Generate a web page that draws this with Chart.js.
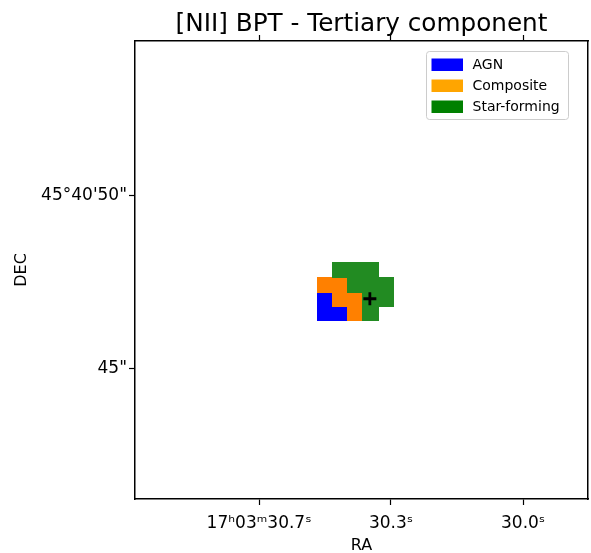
<!DOCTYPE html>
<html><head><meta charset="utf-8">
<script src="https://cdn.jsdelivr.net/npm/chart.js@4.4.1/dist/chart.umd.min.js"></script>
<style>html,body{margin:0;padding:0;background:#fff;overflow:hidden;}</style>
</head><body>
<canvas id="c" width="591" height="553"></canvas>
<script>
// ---------- data ----------
const titleText = '[NII] BPT - Tertiary component';
const categories = ['AGN', 'Composite', 'Star-forming'];
const legendColors = ['#0000ff', '#ffa500', '#008000'];
const cellColors = ['#0000ff', '#ff8000', '#228b22'];
// cell centres, in image-pixel units
const agnX = [12.5, 12.5, 13.5];
const agnY = [13.5, 12.5, 12.5];
const compX = [12.5, 13.5, 13.5, 14.5, 14.5];
const compY = [14.5, 14.5, 13.5, 13.5, 12.5];
const sfX = [13.5, 14.5, 15.5, 14.5, 15.5, 16.5, 15.5, 16.5, 15.5];
const sfY = [15.5, 15.5, 15.5, 14.5, 14.5, 14.5, 13.5, 13.5, 12.5];
const centreX = [15.45];
const centreY = [13.5];
const raTickValues = [8.16, 16.84, 25.53];
const raTickLabels = ['17ʰ03ᵐ30.7ˢ', '30.3ˢ', '30.0ˢ'];
const decTickValues = [20.76, 8.58];
const decTickLabels = ['45°40\'50"', '45"'];
const xRange = [0, 29.8];
const yRange = [-0.6, 31.65];

const FONT = '"DejaVu Sans", "Liberation Sans", sans-serif';
const pts = (xs, ys) => xs.map((x, i) => ({x: x, y: ys[i]}));

// pixel cell drawn as an image point style sized from the scales
const cellCache = {};
function cellStyle(color) {
  return function (ctx) {
    const ch = ctx.chart;
    const sx = ch.scales.x, sy = ch.scales.y;
    if (!sx || !sy) return 'rect';
    const w = Math.ceil(Math.abs(sx.getPixelForValue(1) - sx.getPixelForValue(0))) + 1;
    const h = Math.ceil(Math.abs(sy.getPixelForValue(1) - sy.getPixelForValue(0))) + 1;
    const key = color + w + 'x' + h;
    if (!cellCache[key]) {
      const cv = document.createElement('canvas');
      cv.width = w; cv.height = h;
      const c2 = cv.getContext('2d');
      c2.fillStyle = color; c2.fillRect(0, 0, w, h);
      cellCache[key] = cv;
    }
    return cellCache[key];
  };
}

const decor = {
  id: 'decor',
  afterDraw(chart) {
    const ctx = chart.ctx, ca = chart.chartArea;
    ctx.save();
    ctx.fillStyle = '#000';
    ctx.font = '24.7px ' + FONT;
    ctx.textAlign = 'center';
    ctx.textBaseline = 'alphabetic';
    ctx.fillText(titleText, (ca.left + ca.right) / 2, ca.top - 10);
    // legend
    const bx = ca.right - 161.5, by = ca.top + 10.5, bw = 142, bh = 68;
    ctx.beginPath();
    ctx.roundRect(bx, by, bw, bh, 3);
    ctx.fillStyle = 'rgba(255,255,255,0.8)';
    ctx.fill();
    ctx.strokeStyle = '#cccccc';
    ctx.lineWidth = 1;
    ctx.stroke();
    ctx.font = '14px ' + FONT;
    ctx.textAlign = 'left';
    ctx.textBaseline = 'middle';
    categories.forEach((lab, i) => {
      const cy = by + 13 + i * 21;
      ctx.fillStyle = legendColors[i];
      ctx.fillRect(bx + 5, cy - 6, 31.5, 12.5);
      ctx.fillStyle = '#000';
      ctx.fillText(lab, bx + 46, cy + 0.5);
    });
    ctx.restore();
  }
};

const tickGrid = {display: true, drawOnChartArea: false, drawTicks: true, tickLength: 6, tickWidth: 1.2, tickColor: '#000'};
const axisBorder = {display: true, color: '#000', width: 1.5};
const fixH = h => s => { s.height = h; s.paddingLeft = 0; s.paddingRight = 0; s.paddingTop = 0; s.paddingBottom = 0; };
const fixW = w => s => { s.width = w; s.paddingLeft = 0; s.paddingRight = 0; s.paddingTop = 0; s.paddingBottom = 0; };

new Chart(document.getElementById('c'), {
  type: 'scatter',
  data: {
    datasets: [
      {label: 'centre', data: pts(centreX, centreY), pointStyle: 'cross', pointRadius: 6.5, borderWidth: 2.8, borderColor: '#000', backgroundColor: '#000', order: 0},
      {label: categories[0], data: pts(agnX, agnY), pointStyle: cellStyle(cellColors[0]), pointRadius: 8, borderWidth: 0, backgroundColor: cellColors[0], order: 3},
      {label: categories[1], data: pts(compX, compY), pointStyle: cellStyle(cellColors[1]), pointRadius: 8, borderWidth: 0, backgroundColor: cellColors[1], order: 2},
      {label: categories[2], data: pts(sfX, sfY), pointStyle: cellStyle(cellColors[2]), pointRadius: 8, borderWidth: 0, backgroundColor: cellColors[2], order: 1}
    ]
  },
  options: {
    responsive: false,
    animation: false,
    devicePixelRatio: 1,
    events: [],
    layout: {padding: 0, autoPadding: false},
    plugins: {legend: {display: false}, tooltip: {enabled: false}, title: {display: false}},
    scales: {
      x: {
        type: 'linear', position: 'bottom', min: xRange[0], max: xRange[1],
        afterBuildTicks: s => { s.ticks = raTickValues.map(v => ({value: v})); },
        afterFit: fixH(54),
        ticks: {autoSkip: false, maxRotation: 0, padding: 8.5, color: '#000', font: {family: FONT, size: 17}, callback: (v, i) => raTickLabels[i]},
        grid: tickGrid, border: axisBorder,
        title: {display: true, text: 'RA', color: '#000', font: {family: FONT, size: 16}, padding: {top: 0, bottom: -2}}
      },
      x2: {
        type: 'linear', position: 'top', min: xRange[0], max: xRange[1],
        afterBuildTicks: s => { s.ticks = raTickValues.map(v => ({value: v})); },
        afterFit: fixH(41),
        ticks: {display: false},
        grid: tickGrid, border: axisBorder
      },
      y: {
        type: 'linear', position: 'left', min: yRange[0], max: yRange[1],
        afterBuildTicks: s => { s.ticks = decTickValues.map(v => ({value: v})); },
        afterFit: fixW(135),
        ticks: {autoSkip: false, padding: 2, color: '#000', font: {family: FONT, size: 17}, callback: (v, i) => decTickLabels[i]},
        grid: tickGrid, border: axisBorder,
        title: {display: true, text: 'DEC', color: '#000', font: {family: FONT, size: 16}, padding: {top: 12, bottom: 0}}
      },
      y2: {
        type: 'linear', position: 'right', min: yRange[0], max: yRange[1],
        afterFit: fixW(3),
        ticks: {display: false},
        grid: {display: false}, border: axisBorder
      }
    }
  },
  plugins: [decor]
});
</script>
</body></html>
